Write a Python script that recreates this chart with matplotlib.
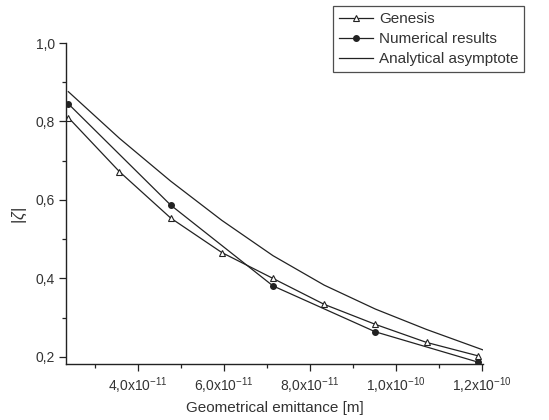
import matplotlib
matplotlib.use("Agg")
import matplotlib.pyplot as plt
from matplotlib.ticker import FixedLocator

plt.rcParams['font.family'] = ['Liberation Sans', 'DejaVu Sans']
plt.rcParams['mathtext.fontset'] = 'custom'
plt.rcParams['mathtext.rm'] = 'Liberation Sans'
plt.rcParams['mathtext.it'] = 'Liberation Sans:italic'

# Data (geometrical emittance in m)
genesis_x = [2.38e-11, 3.57e-11, 4.76e-11, 5.95e-11, 7.14e-11, 8.33e-11, 9.52e-11, 1.071e-10, 1.19e-10]
genesis_y = [0.810, 0.672, 0.554, 0.466, 0.400, 0.334, 0.283, 0.237, 0.203]

numerical_x = [2.38e-11, 4.76e-11, 7.14e-11, 9.52e-11, 1.19e-10]
numerical_y = [0.845, 0.587, 0.381, 0.264, 0.187]

analytical_x = [2.38e-11, 3.57e-11, 4.76e-11, 5.95e-11, 7.14e-11, 8.33e-11, 9.52e-11, 1.071e-10, 1.202e-10]
analytical_y = [0.876, 0.757, 0.648, 0.548, 0.458, 0.383, 0.322, 0.270, 0.218]

x_major = [4e-11, 6e-11, 8e-11, 1e-10, 1.2e-10]
x_labels = [r'4,0x10$^{-11}$', r'6,0x10$^{-11}$', r'8,0x10$^{-11}$', r'1,0x10$^{-10}$', r'1,2x10$^{-10}$']
x_minor = [3e-11, 5e-11, 7e-11, 9e-11, 1.1e-10]
y_major = [0.2, 0.4, 0.6, 0.8, 1.0]
y_labels = ['0,2', '0,4', '0,6', '0,8', '1,0']
y_minor = [0.3, 0.5, 0.7, 0.9]

col = '#222222'
tcol = '#333333'

fig = plt.figure(figsize=(5.49, 4.20), dpi=100)
ax = fig.add_axes([66/549, 1-364/420, (483-66)/549, (364-43)/420])

ax.plot(genesis_x, genesis_y, color=col, lw=0.9, marker='^', ms=4.5, mfc='white', mec=col, mew=0.8, label='Genesis')
ax.plot(numerical_x, numerical_y, color=col, lw=0.9, marker='o', ms=4, mfc=col, mec=col, label='Numerical results')
ax.plot(analytical_x, analytical_y, color=col, lw=0.9, label='Analytical asymptote')

ax.set_xlim(2.326e-11, 1.2023e-10)
ax.set_ylim(0.182, 1.0)

ax.spines['top'].set_visible(False)
ax.spines['right'].set_visible(False)
for s in ('left', 'bottom'):
    ax.spines[s].set_color(col)
    ax.spines[s].set_linewidth(1.0)

ax.xaxis.set_major_locator(FixedLocator(x_major))
ax.set_xticklabels(x_labels)
ax.xaxis.set_minor_locator(FixedLocator(x_minor))
ax.yaxis.set_major_locator(FixedLocator(y_major))
ax.set_yticklabels(y_labels)
ax.yaxis.set_minor_locator(FixedLocator(y_minor))

ax.tick_params(which='major', direction='out', length=5, width=0.9, color=col, labelcolor=tcol, labelsize=10, pad=3)
ax.tick_params(which='minor', direction='out', length=3, width=0.9, color=col)

ax.set_xlabel('Geometrical emittance [m]', fontsize=11, color=tcol, labelpad=4)
ax.set_ylabel(r'$|\zeta|$', fontsize=12, color=tcol)
ax.yaxis.set_label_coords(-0.089, 0.464)

leg = fig.legend(loc='upper left', bbox_to_anchor=(333/549, 1-6/420), frameon=True, fancybox=False,
                 edgecolor=col, fontsize=11, handlelength=2.2, handletextpad=0.4, borderpad=0.4,
                 labelspacing=0.4, borderaxespad=0)
leg.get_frame().set_linewidth(0.9)
for t in leg.get_texts():
    t.set_color(tcol)

fig.savefig('out.png', dpi=100)
